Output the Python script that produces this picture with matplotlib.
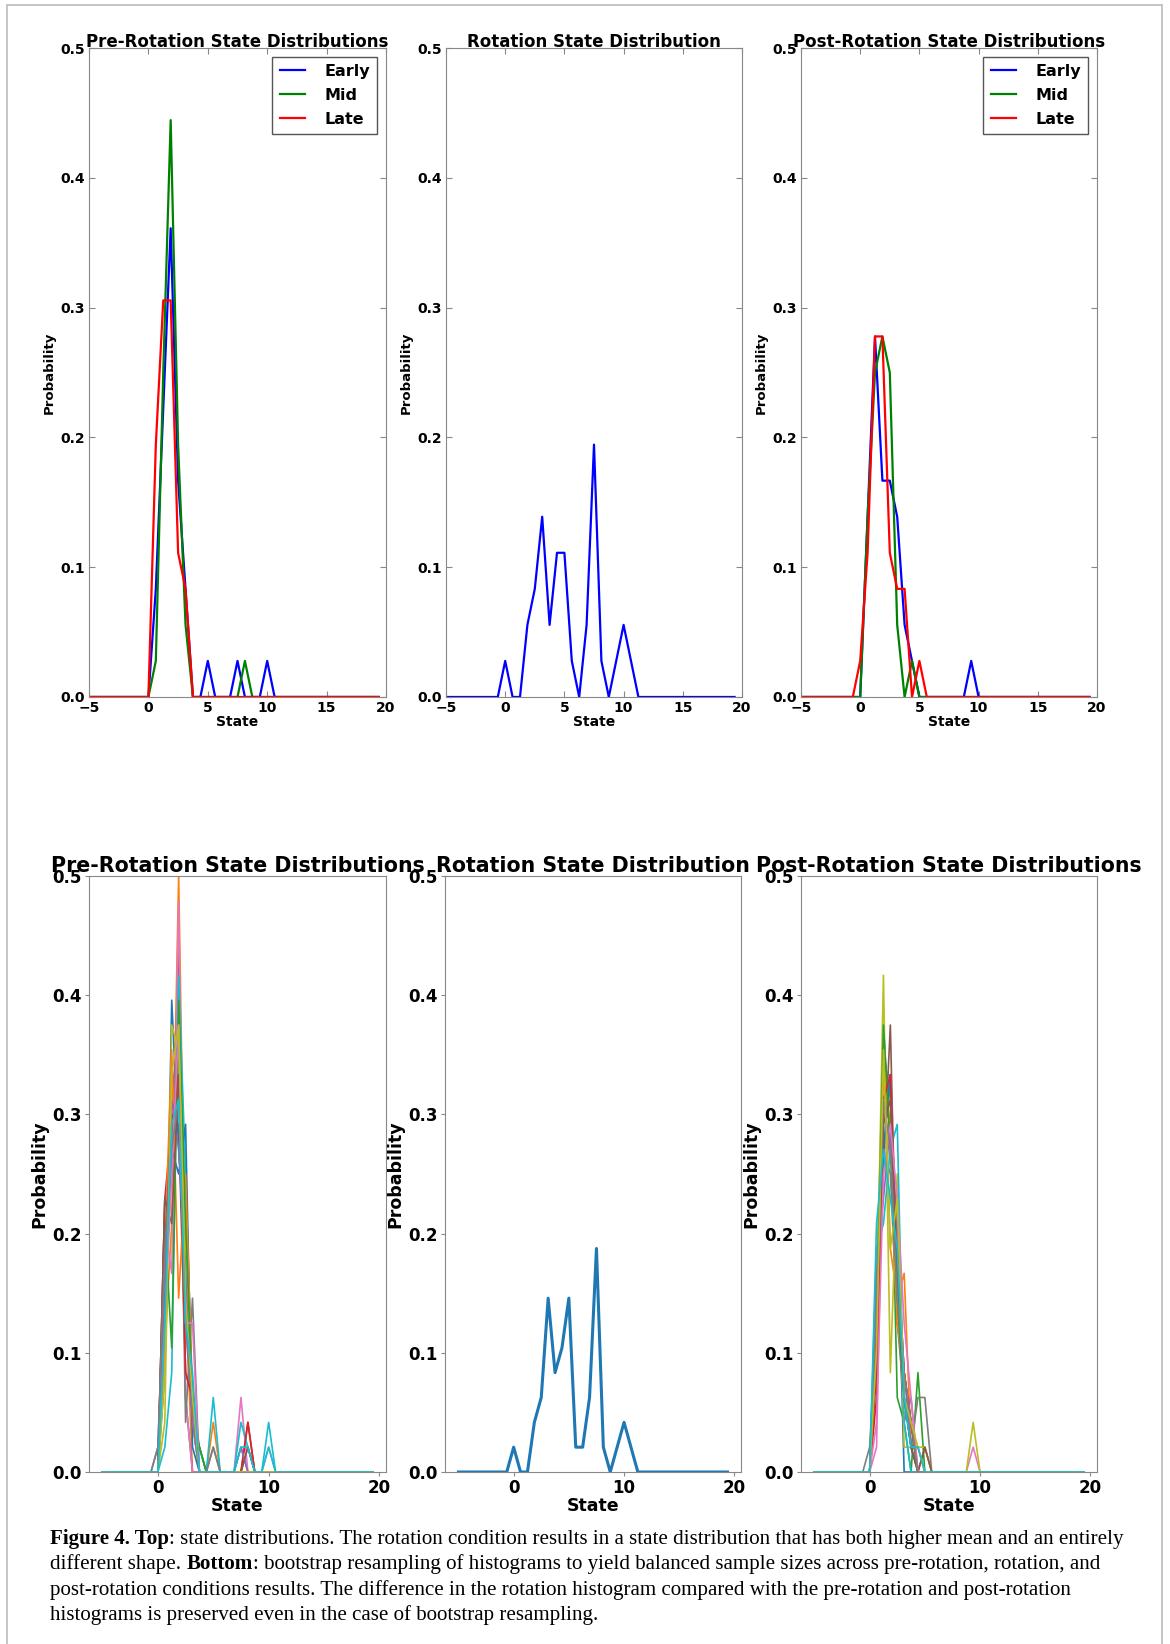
import numpy as np
import matplotlib
matplotlib.use("Agg")
import matplotlib.pyplot as plt
from matplotlib.patches import Rectangle

W, H = 1170, 1644

# histogram grid: 40 bins over [-5, 20), curves drawn at the left bin edges
states = np.linspace(-5, 20, 40, endpoint=False)
FIRST_BIN = 7   # all count windows below start at state -0.625

# top row: counts out of 36 trials, bins -0.625 .. 11.25
N_TOP = 36
pre_early = [0, 0, 3, 8, 13, 6, 3, 0, 0, 1, 0, 0, 0, 1, 0, 0, 0, 1, 0, 0]
pre_mid = [0, 0, 1, 9, 16, 7, 2, 0, 0, 0, 0, 0, 0, 0, 1, 0, 0, 0, 0, 0]
pre_late = [0, 0, 7, 11, 11, 4, 3, 0, 0, 0, 0, 0, 0, 0, 0, 0, 0, 0, 0, 0]
rotation = [0, 1, 0, 0, 2, 3, 5, 2, 4, 4, 1, 0, 2, 7, 1, 0, 1, 2, 1, 0]
post_early = [0, 0, 5, 10, 6, 6, 5, 2, 1, 0, 0, 0, 0, 0, 0, 0, 1, 0, 0, 0]
post_mid = [0, 0, 5, 9, 10, 9, 2, 0, 1, 0, 0, 0, 0, 0, 0, 0, 0, 0, 0, 0]
post_late = [0, 1, 4, 10, 10, 4, 3, 3, 0, 1, 0, 0, 0, 0, 0, 0, 0, 0, 0, 0]
phase_labels = ["Early", "Mid", "Late"]

# bottom row: bootstrap resamples of 48 trials, same bins
N_BOOT = 48
rotation_boot = [0, 1, 0, 0, 2, 3, 7, 4, 5, 7, 1, 1, 3, 9, 1, 0, 1, 2, 1, 0]

pre_boot = [
    [0, 0, 4, 19, 13, 9, 2, 1, 0, 0, 0, 0, 0, 0, 0, 0, 0, 0, 0, 0],
    [0, 0, 5, 10, 24, 7, 0, 0, 0, 2, 0, 0, 0, 0, 0, 0, 0, 0, 0, 0],
    [0, 0, 9, 12, 17, 7, 2, 1, 0, 0, 0, 0, 0, 0, 0, 0, 0, 0, 0, 0],
    [0, 0, 11, 14, 14, 4, 3, 0, 0, 0, 0, 0, 0, 0, 2, 0, 0, 0, 0, 0],
    [0, 0, 6, 15, 18, 6, 2, 0, 0, 0, 0, 0, 0, 1, 0, 0, 0, 0, 0, 0],
    [0, 0, 11, 12, 21, 3, 0, 0, 0, 0, 0, 0, 0, 0, 1, 0, 0, 0, 0, 0],
    [0, 0, 10, 8, 23, 3, 0, 0, 0, 0, 0, 0, 0, 3, 0, 0, 0, 1, 0, 0],
    [0, 0, 7, 13, 18, 2, 7, 0, 0, 1, 0, 0, 0, 0, 0, 0, 0, 0, 0, 0],
    [0, 0, 2, 18, 17, 9, 2, 0, 0, 0, 0, 0, 0, 0, 0, 0, 0, 0, 0, 0],
    [0, 0, 1, 4, 20, 12, 3, 0, 0, 3, 0, 0, 0, 2, 1, 0, 0, 2, 0, 0],
    [0, 0, 8, 13, 12, 14, 1, 0, 0, 0, 0, 0, 0, 0, 0, 0, 0, 0, 0, 0],
    [0, 0, 9, 17, 7, 12, 3, 0, 0, 0, 0, 0, 0, 0, 0, 0, 0, 0, 0, 0],
    [0, 0, 10, 5, 19, 10, 3, 1, 0, 0, 0, 0, 0, 0, 0, 0, 0, 0, 0, 0],
    [0, 0, 9, 14, 16, 4, 3, 0, 0, 0, 0, 0, 0, 0, 2, 0, 0, 0, 0, 0],
    [0, 1, 8, 15, 13, 8, 2, 0, 0, 0, 0, 0, 0, 1, 0, 0, 0, 0, 0, 0],
    [0, 0, 11, 10, 16, 7, 3, 0, 0, 0, 0, 0, 0, 0, 1, 0, 0, 0, 0, 0],
    [0, 0, 6, 12, 18, 6, 6, 0, 0, 0, 0, 0, 0, 0, 0, 0, 0, 0, 0, 0],
    [0, 1, 9, 13, 15, 6, 3, 0, 0, 1, 0, 0, 0, 0, 0, 0, 0, 0, 0, 0],
    [0, 0, 4, 16, 18, 7, 3, 0, 0, 0, 0, 0, 0, 0, 0, 0, 0, 0, 0, 0],
    [0, 0, 6, 14, 15, 6, 4, 0, 0, 0, 0, 0, 0, 1, 1, 0, 0, 1, 0, 0],
]

post_boot = [
    [0, 0, 7, 18, 13, 10, 0, 0, 0, 0, 0, 0, 0, 0, 0, 0, 0, 0, 0, 0],
    [0, 0, 5, 18, 9, 7, 8, 1, 0, 0, 0, 0, 0, 0, 0, 0, 0, 0, 0, 0],
    [0, 0, 7, 17, 15, 3, 2, 0, 4, 0, 0, 0, 0, 0, 0, 0, 0, 0, 0, 0],
    [0, 0, 4, 15, 14, 9, 4, 2, 0, 0, 0, 0, 0, 0, 0, 0, 0, 0, 0, 0],
    [0, 0, 6, 14, 16, 7, 2, 3, 0, 0, 0, 0, 0, 0, 0, 0, 0, 0, 0, 0],
    [0, 0, 5, 12, 18, 6, 4, 2, 0, 1, 0, 0, 0, 0, 0, 0, 0, 0, 0, 0],
    [0, 0, 1, 15, 16, 9, 4, 2, 0, 0, 0, 0, 0, 0, 0, 0, 1, 0, 0, 0],
    [0, 1, 6, 13, 12, 6, 3, 1, 3, 3, 0, 0, 0, 0, 0, 0, 0, 0, 0, 0],
    [0, 0, 6, 20, 4, 12, 1, 1, 1, 1, 0, 0, 0, 0, 0, 0, 2, 0, 0, 0],
    [0, 0, 9, 10, 13, 14, 2, 0, 0, 0, 0, 0, 0, 0, 0, 0, 0, 0, 0, 0],
    [0, 0, 7, 13, 16, 8, 3, 1, 0, 0, 0, 0, 0, 0, 0, 0, 0, 0, 0, 0],
    [0, 0, 6, 16, 14, 6, 4, 2, 0, 0, 0, 0, 0, 0, 0, 0, 0, 0, 0, 0],
    [0, 0, 5, 18, 13, 7, 3, 2, 0, 0, 0, 0, 0, 0, 0, 0, 0, 0, 0, 0],
    [0, 0, 3, 15, 16, 8, 4, 2, 0, 0, 0, 0, 0, 0, 0, 0, 0, 0, 0, 0],
    [0, 0, 8, 11, 14, 9, 4, 1, 1, 0, 0, 0, 0, 0, 0, 0, 0, 0, 0, 0],
    [0, 0, 6, 14, 15, 8, 3, 1, 0, 1, 0, 0, 0, 0, 0, 0, 0, 0, 0, 0],
    [0, 0, 2, 12, 14, 11, 6, 3, 0, 0, 0, 0, 0, 0, 0, 0, 0, 0, 0, 0],
    [0, 0, 7, 15, 13, 7, 4, 2, 0, 0, 0, 0, 0, 0, 0, 0, 0, 0, 0, 0],
    [0, 0, 5, 17, 9, 11, 3, 2, 1, 0, 0, 0, 0, 0, 0, 0, 0, 0, 0, 0],
    [0, 0, 10, 13, 11, 9, 3, 1, 1, 0, 0, 0, 0, 0, 0, 0, 0, 0, 0, 0],
]

caption_lines = [
    [("Figure 4. Top", "bold"), (": state distributions. The rotation condition results in a state distribution that has both higher mean and an entirely", "normal")],
    [("different shape. ", "normal"), ("Bottom", "bold"), (": bootstrap resampling of histograms to yield balanced sample sizes across pre-rotation, rotation, and", "normal")],
    [("post-rotation conditions results. The difference in the rotation histogram compared with the pre-rotation and post-rotation", "normal")],
    [("histograms is preserved even in the case of bootstrap resampling.", "normal")],
]


def expand(counts, n):
    y = np.zeros(len(states))
    y[FIRST_BIN:FIRST_BIN + len(counts)] = np.asarray(counts) / n
    return y


def px_axes(left, top, right, bottom):
    return [left / W, 1 - bottom / H, (right - left) / W, (bottom - top) / H]


SPINE = "#888888"


def style_top(ax, title):
    ax.set_xlim(-5, 20)
    ax.set_ylim(0, 0.5)
    ax.set_xticks([-5, 0, 5, 10, 15, 20])
    ax.set_yticks([0.0, 0.1, 0.2, 0.3, 0.4, 0.5])
    ax.tick_params(direction="in", top=True, right=True, length=4, pad=3,
                   labelsize=10, color=SPINE)
    for lab in ax.get_xticklabels() + ax.get_yticklabels():
        lab.set_fontweight("bold")
    for sp in ax.spines.values():
        sp.set_color(SPINE)
    ax.set_title(title, fontsize=12, fontweight="bold", pad=1)
    ax.set_xlabel("State", fontsize=10, fontweight="bold", labelpad=0)
    ax.set_ylabel("Probability", fontsize=9.5, fontweight="bold", labelpad=3)


def style_bottom(ax, title):
    ax.set_ylim(0, 0.5)
    ax.set_xticks([0, 10, 20])
    ax.set_yticks([0.0, 0.1, 0.2, 0.3, 0.4, 0.5])
    ax.tick_params(length=3, pad=2, labelsize=12, color=SPINE)
    for lab in ax.get_xticklabels() + ax.get_yticklabels():
        lab.set_fontweight("bold")
    for sp in ax.spines.values():
        sp.set_color(SPINE)
    ax.set_title(title, fontsize=14.8, fontweight="bold", pad=1)
    ax.set_xlabel("State", fontsize=12.5, fontweight="bold", labelpad=0)
    ax.set_ylabel("Probability", fontsize=12.5, fontweight="bold", labelpad=3)


fig = plt.figure(figsize=(W / 100, H / 100), dpi=100)

# outer frame of the figure panel
fig.patches.append(Rectangle((7 / W, -0.01), 1155 / W, 1 - 5 / H + 0.01,
                             transform=fig.transFigure, fill=False,
                             edgecolor="#bbbbbb", lw=1.2))

top_cols = [(89, 386), (446, 742), (801, 1097)]
bot_cols = [(89, 386), (445, 741), (801, 1097)]

# ---- top row ----
ax1 = fig.add_axes(px_axes(top_cols[0][0], 48, top_cols[0][1], 697))
ax2 = fig.add_axes(px_axes(top_cols[1][0], 48, top_cols[1][1], 697))
ax3 = fig.add_axes(px_axes(top_cols[2][0], 48, top_cols[2][1], 697))

classic = ["b", "g", "r"]
for series, c, lab in zip([pre_early, pre_mid, pre_late], classic, phase_labels):
    ax1.plot(states, expand(series, N_TOP), color=c, lw=1.6, label=lab)
ax2.plot(states, expand(rotation, N_TOP), color="b", lw=1.6)
for series, c, lab in zip([post_early, post_mid, post_late], classic, phase_labels):
    ax3.plot(states, expand(series, N_TOP), color=c, lw=1.6, label=lab)

style_top(ax1, "Pre-Rotation State Distributions")
style_top(ax2, "Rotation State Distribution")
style_top(ax3, "Post-Rotation State Distributions")

for ax in (ax1, ax3):
    leg = ax.legend(loc="upper right", prop={"weight": "bold", "size": 11.5},
                    fancybox=False, edgecolor="#555555", framealpha=1,
                    handlelength=1.6, handletextpad=1.2, borderpad=0.45,
                    labelspacing=0.55, borderaxespad=0.55)
    leg.get_frame().set_linewidth(1.0)

# ---- bottom row ----
bx1 = fig.add_axes(px_axes(bot_cols[0][0], 876, bot_cols[0][1], 1472))
bx2 = fig.add_axes(px_axes(bot_cols[1][0], 876, bot_cols[1][1], 1472))
bx3 = fig.add_axes(px_axes(bot_cols[2][0], 876, bot_cols[2][1], 1472))

for counts in pre_boot:
    bx1.plot(states, expand(counts, N_BOOT), lw=1.2)
bx2.plot(states, expand(rotation_boot, N_BOOT), lw=2.2)
for counts in post_boot:
    bx3.plot(states, expand(counts, N_BOOT), lw=1.2)

style_bottom(bx1, "Pre-Rotation State Distributions")
style_bottom(bx2, "Rotation State Distribution")
style_bottom(bx3, "Post-Rotation State Distributions")

# ---- caption ----
renderer = fig.canvas.get_renderer()
line_y = [1539, 1564, 1590, 1615]
for parts, ypx in zip(caption_lines, line_y):
    x = 50 / W
    for txt, weight in parts:
        t = fig.text(x, 1 - ypx / H, txt, fontsize=15.1, fontweight=weight,
                     family="Liberation Serif", va="center", ha="left")
        bb = t.get_window_extent(renderer=renderer)
        x = bb.x1 / W

fig.savefig("out.png", dpi=100)
